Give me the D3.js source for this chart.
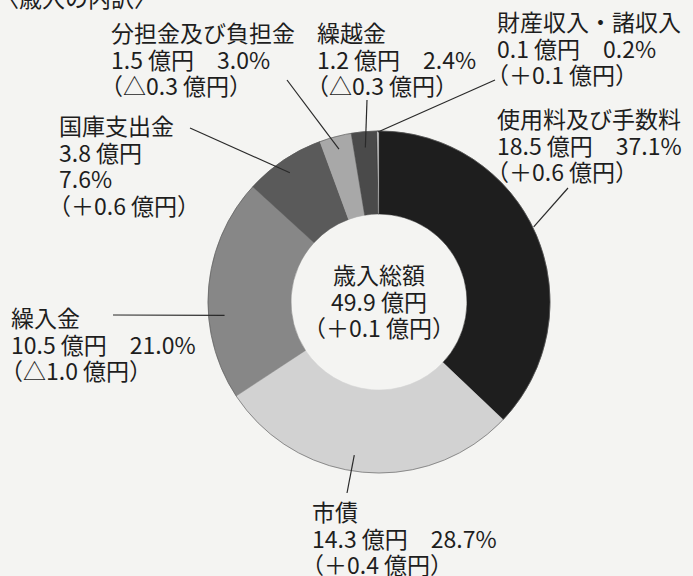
<!DOCTYPE html>
<html>
<head>
<meta charset="utf-8">
<script src="https://cdn.jsdelivr.net/npm/d3@7"></script>
<style>
  html, body { margin: 0; padding: 0; background: #f4f4f2; }
  svg { display: block; }
  text { font-family: "Noto Sans CJK JP", "Noto Sans", sans-serif; fill: #1e1e1e; }
</style>
</head>
<body>
<div id="chart"></div>
<script>
// data (億円)
var categories = ["使用料及び手数料", "市債", "繰入金", "国庫支出金", "分担金及び負担金", "繰越金", "財産収入・諸収入"];
var amounts = [18.5, 14.3, 10.5, 3.8, 1.5, 1.2, 0.1];
var shares = [37.1, 28.7, 21.0, 7.6, 3.0, 2.4, 0.2];
var changes = [0.6, 0.4, -1.0, 0.6, -0.3, -0.3, 0.1];
var totalLabel = "歳入総額";
var totalAmount = 49.9;
var totalChange = 0.1;
var heading = "〈歳入の内訳〉";

var colors = ["#1e1e1e", "#d2d2d2", "#878787", "#5a5a5a", "#a8a8a8", "#4a4a4a", "#f6f6f6"];

// label placement: text x / first baseline, leader anchor, leader tip radius and
// position inside the slice (0 = start, 1 = end)
var labelLayout = [
  {x: 497, y: 128, ax: 568, ay: 188, r: 172, f: 0.48, lines: 3},
  {x: 312, y: 521, ax: 347, ay: 493, r: 155, f: 0.54, lines: 3},
  {x: 11,  y: 327, ax: 113, ay: 315, r: 155, f: 0.375, lines: 3},
  {x: 59,  y: 135, ax: 190, ay: 128, r: 157, f: 0.475, lines: 4},
  {x: 111, y: 42,  ax: 287, ay: 80,  r: 158, f: 0.51, lines: 3},
  {x: 317, y: 42,  ax: 367, ay: 100, r: 155, f: 0.5, lines: 3},
  {x: 497, y: 31,  ax: 495, ay: 80,  r: 170, f: 0.5, lines: 3}
];

var width = 693, height = 576;
var cx = 379, cy = 302, outerR = 171, innerR = 88;
var fontSize = 23, lineGap = 26.5;

function fmtChange(v) {
  return "（" + (v < 0 ? "△" : "＋") + Math.abs(v).toFixed(1) + " 億円）";
}

var svg = d3.select("#chart").append("svg")
    .attr("width", width)
    .attr("height", height);

svg.append("text")
    .attr("x", -4)
    .attr("y", 7)
    .attr("font-size", fontSize)
    .text(heading);

var pie = d3.pie().sort(null).value(function (d) { return d; });
var arcs = pie(amounts);

var arc = d3.arc().innerRadius(innerR).outerRadius(outerR);

var g = svg.append("g")
    .attr("transform", "translate(" + cx + "," + cy + ")");

g.selectAll("path.slice")
  .data(arcs)
  .enter()
  .append("path")
    .attr("class", "slice")
    .attr("d", arc)
    .attr("fill", function (d, i) { return colors[i]; })
    .attr("stroke", function (d, i) { return i === 6 ? "#333" : colors[i]; })
    .attr("stroke-width", function (d, i) { return i === 6 ? 0.8 : 0.5; });

// thin outline around ring
g.append("circle").attr("r", outerR).attr("fill", "none").attr("stroke", "#555").attr("stroke-width", 0.6);

// leader lines
svg.append("g")
  .selectAll("line")
  .data(arcs)
  .enter()
  .append("line")
    .attr("x1", function (d, i) { return labelLayout[i].ax; })
    .attr("y1", function (d, i) { return labelLayout[i].ay; })
    .attr("x2", function (d, i) {
      var L = labelLayout[i], a = d.startAngle + (d.endAngle - d.startAngle) * L.f;
      return cx + L.r * Math.sin(a);
    })
    .attr("y2", function (d, i) {
      var L = labelLayout[i], a = d.startAngle + (d.endAngle - d.startAngle) * L.f;
      return cy - L.r * Math.cos(a);
    })
    .attr("stroke", "#2a2a2a")
    .attr("stroke-width", 1.2);

// labels
var labels = svg.append("g")
  .selectAll("text.label")
  .data(categories)
  .enter()
  .append("text")
    .attr("class", "label")
    .attr("font-size", fontSize)
    .attr("x", function (d, i) { return labelLayout[i].x; })
    .attr("y", function (d, i) { return labelLayout[i].y; });

labels.each(function (d, i) {
  var L = labelLayout[i];
  var rows;
  if (L.lines === 4) {
    rows = [d, amounts[i].toFixed(1) + " 億円", shares[i].toFixed(1) + "%", fmtChange(changes[i])];
  } else {
    rows = [d, amounts[i].toFixed(1) + " 億円　" + shares[i].toFixed(1) + "%", fmtChange(changes[i])];
  }
  d3.select(this).selectAll("tspan")
    .data(rows)
    .enter()
    .append("tspan")
      .attr("x", L.x)
      .attr("dy", function (r, k) { return k === 0 ? 0 : lineGap; })
      .attr("dx", function (r, k) { return r.charAt(0) === "（" ? -11 : 0; })
      .text(function (r) { return r; });
});

// center text
var center = svg.append("text")
    .attr("text-anchor", "middle")
    .attr("font-size", fontSize)
    .attr("x", cx)
    .attr("y", 284);
[totalLabel, totalAmount.toFixed(1) + " 億円", fmtChange(totalChange)].forEach(function (r, k) {
  center.append("tspan")
    .attr("x", cx)
    .attr("dy", k === 0 ? 0 : lineGap)
    .text(r);
});
</script>
</body>
</html>
